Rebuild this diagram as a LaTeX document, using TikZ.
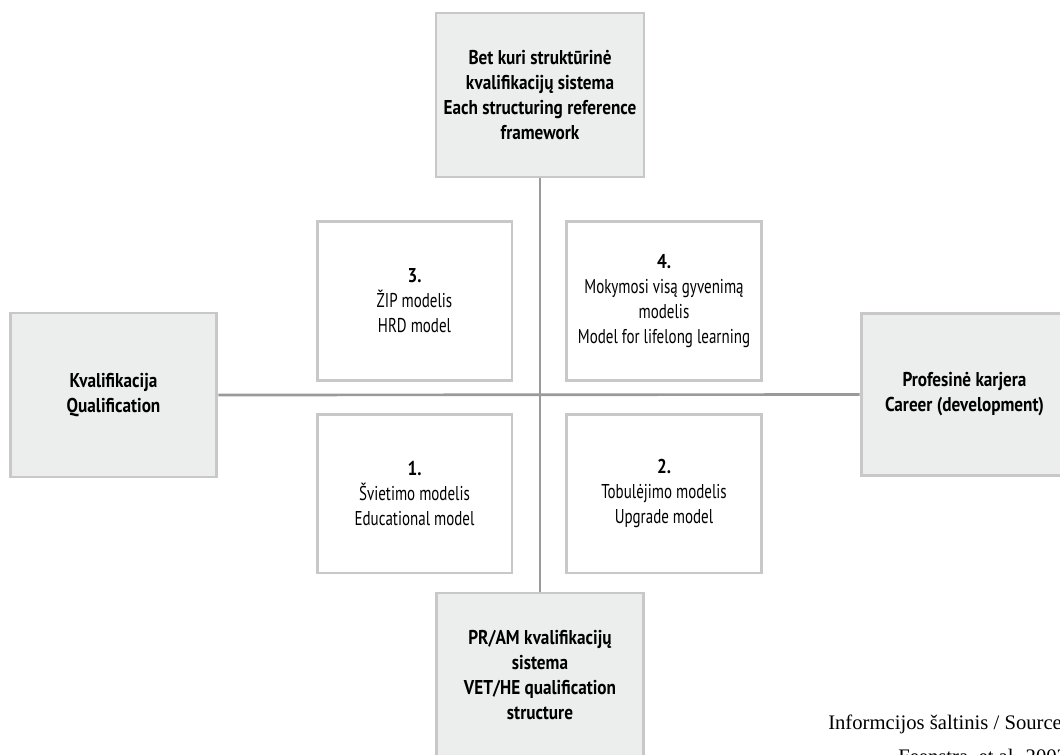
\documentclass[tikz,border=0pt]{standalone}
\usepackage{fontspec}
\setmainfont{PT Sans}[FakeStretch=0.75, BoldFeatures={FakeStretch=0.86}]
\newfontfamily\srcfont{Liberation Serif}
\definecolor{boxfill}{HTML}{ECEDED}
\definecolor{boxline}{HTML}{C8C8C8}
\definecolor{axisline}{HTML}{9A9A9A}
\tikzset{
  outerbox/.style={draw=boxline, line width=2.2pt, fill=boxfill, align=center,
    font=\fontsize{15}{18.75}\selectfont\bfseries, inner sep=0pt},
  innerbox/.style={draw=boxline, line width=2pt, fill=white, align=center,
    font=\fontsize{15}{18.75}\selectfont, inner sep=0pt,
    minimum width=146pt, minimum height=119pt},
  axis/.style={draw=axisline, line width=2pt},
  srctext/.style={anchor=base west, inner sep=0pt, font=\srcfont\fontsize{15.5}{18}\selectfont},
}
\begin{document}
\begin{tikzpicture}[x=0.75pt,y=-0.75pt]
\useasboundingbox (0,0) rectangle (1060,754);
\clip (0,0) rectangle (1060,754);
% axes
\node[outerbox, minimum width=156pt, minimum height=123pt] (top) at (540,95)
  {Bet kuri struktūrinė\\kvalifikacijų sistema\\Each structuring reference\\framework};
\node[outerbox, minimum width=155pt, minimum height=123pt] (left) at (113.5,395)
  {Kvalifikacija\\Qualification};
\node[outerbox, minimum width=155pt, minimum height=122pt] (right) at (964.5,394.5)
  {Profesinė karjera\\Career (development)};
\node[outerbox, minimum width=155pt, minimum height=123pt] (bottom) at (540,675)
  {PR/AM kvalifikacijų\\sistema\\VET/HE qualification\\structure};
\draw[axis] (top.south) -- (bottom.north);
\draw[axis] (left.east) -- (right.west);
% quadrants
\node[innerbox] (q3) at (414.5,301) {\textbf{3.}\\ŽIP modelis\\HRD model};
\node[innerbox] (q4) at (664,301) {\textbf{4.}\\Mokymosi visą gyvenimą\\modelis\\Model for lifelong learning};
\node[innerbox] (q1) at (414.5,493.5) {\textbf{1.}\\Švietimo modelis\\Educational model};
\node[innerbox] (q2) at (664,493.5) {\textbf{2.}\\Tobulėjimo modelis\\Upgrade model};
% source
\node[srctext] (src1) at (828,729) {Informcijos šaltinis / Source};
\node[srctext] (src2) at (898,763) {Feenstra, et al. 2003};
\end{tikzpicture}
\end{document}
